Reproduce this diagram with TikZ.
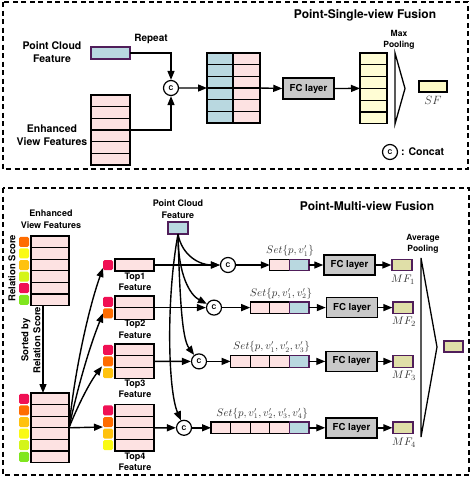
\documentclass[tikz,border=0pt]{standalone}
\usepackage{fontspec}
\newfontfamily\hv{TeX Gyre Heros}
\usetikzlibrary{arrows.meta,calc}
\definecolor{pinkc}{RGB}{253,226,226}
\definecolor{bluec}{RGB}{185,216,224}
\definecolor{purp}{RGB}{80,30,90}
\definecolor{yelc}{RGB}{255,253,212}
\definecolor{sfc}{RGB}{253,250,196}
\definecolor{mfc}{RGB}{224,223,168}
\definecolor{fcc}{RGB}{200,200,200}
\definecolor{sqred}{RGB}{240,16,84}
\definecolor{sqorange}{RGB}{255,108,0}
\definecolor{sqamber}{RGB}{255,194,14}
\definecolor{sqyellow}{RGB}{250,250,20}
\definecolor{sqlime}{RGB}{212,245,26}
\definecolor{sqgreen}{RGB}{128,230,30}
\begin{document}
\begin{tikzpicture}[x=1pt,y=-1pt,
  lbl/.style={font=\hv\bfseries\fontsize{10.5}{13.5}\selectfont, align=center, inner sep=0pt},
  slbl/.style={font=\hv\bfseries\fontsize{9}{11.5}\selectfont, align=center, inner sep=0pt},
  plbl/.style={font=\hv\bfseries\fontsize{8.5}{11}\selectfont, align=center, inner sep=0pt},
  ttl/.style={font=\hv\bfseries\fontsize{12}{14}\selectfont, inner sep=0pt},
  mlbl/.style={font=\fontsize{10.5}{12}\selectfont, text=black!80, inner sep=0pt},
  cellbox/.style={draw=black, line width=1.3pt, inner sep=0pt, outer sep=0pt},
  sqr/.style={rounded corners=1.5pt, minimum size=10pt, inner sep=0pt, outer sep=0pt},
  cc/.style={draw, circle, line width=1.2pt, fill=white, minimum size=15pt, inner sep=0pt, font=\hv\bfseries\fontsize{6.5}{7}\selectfont},
  fcbox/.style={draw, line width=1.5pt, fill=fcc, minimum width=51pt, minimum height=20pt, inner sep=0pt, font=\hv\bfseries\fontsize{9.6}{11}\selectfont},
  mfbox/.style={draw=purp, line width=1.3pt, fill=mfc, minimum width=20pt, minimum height=11.5pt, inner sep=0pt},
  arr/.style={-{Triangle[length=9pt,width=7pt]}, line width=1.4pt},
  dashframe/.style={line width=1.4pt, dash pattern=on 5pt off 3.5pt}
]
\useasboundingbox (0,0) rectangle (471,477);

% ================= top panel =================
\draw[dashframe] (3,2) rectangle (468,169);
\node[ttl] (ttop) at (365,15) {Point-Single-view Fusion};

\node[lbl] (pcflbl) at (52,52) {Point Cloud\\Feature};
\node[cellbox, draw=purp, fill=bluec, minimum width=39pt, minimum height=12pt] (pct) at (110.5,53) {};
\node[lbl, font=\hv\bfseries\fontsize{10}{12}\selectfont] (rep) at (151,39) {Repeat};
\foreach \i in {1,...,6}
  \node[cellbox, fill=pinkc, minimum width=39pt, minimum height=11.67pt] (et\i) at (110.5,{95+11.67*(\i-0.5)}) {};
\node[lbl] (evtl) at (52,135) {Enhanced\\View Features};
\node[cc] (c0) at (171,88) {C};
\draw[arr] (pct.east) -| (c0.north);
\draw[arr] (et3.south east) -| (c0.south);

\foreach \i in {1,...,6} {
  \node[cellbox, fill=bluec, minimum width=26pt, minimum height=11.67pt] (cb\i) at (220,{53+11.67*(\i-0.5)}) {};
  \node[cellbox, fill=pinkc, minimum width=27pt, minimum height=11.67pt] (cp\i) at (246.5,{53+11.67*(\i-0.5)}) {};
}
\draw[arr] (c0.east) -- (cb3.south west);
\node[fcbox, minimum height=21pt] (fc0) at (308.5,88.5) {FC layer};
\draw[arr] (cp3.south east) -- (fc0.west);
\foreach \i in {1,...,6}
  \node[cellbox, fill=yelc, minimum width=27pt, minimum height=11.8pt] (ys\i) at (373.5,{53+11.8*(\i-0.5)}) {};
\draw[arr] (fc0.east) -- (ys3.south west);
\draw[line width=1.3pt, line join=miter] (395,53) -- (405,88.5) -- (395,124) -- cycle;
\node[plbl] (mpl) at (399,39.5) {Max\\Pooling};
\node[cellbox, fill=sfc, minimum width=28pt, minimum height=11pt] (sf) at (433,86.5) {};
\node[font=\fontsize{12}{14}\selectfont, text=black!80, inner sep=0pt] (sflbl) at (433,100.5) {$SF$};
\node[cc] (cleg) at (390,152) {C};
\node[lbl, anchor=west] (clegt) at (401,152) {: Concat};

% ================= bottom panel =================
\draw[dashframe] (3,188) rectangle (469,475);
\node[ttl] (tbot) at (367,206) {Point-Multi-view Fusion};
\node[slbl] (evbl) at (51,219.5) {Enhanced\\View Features};
\foreach \i/\c in {1/sqorange,2/sqyellow,3/sqamber,4/sqlime,5/sqred,6/sqgreen} {
  \node[cellbox, fill=pinkc, minimum width=38pt, minimum height=11.6pt] (ev\i) at (50,{236+11.6*(\i-0.5)}) {};
  \node[sqr, fill=\c] (evs\i) at (24,{236+11.6*(\i-0.5)}) {};
}
\node[slbl, font=\hv\bfseries\fontsize{9.5}{12}\selectfont, rotate=90] (rsl) at (12,268) {Relation Score};
\foreach \i/\c in {1/sqred,2/sqorange,3/sqamber,4/sqyellow,5/sqlime,6/sqgreen} {
  \node[cellbox, fill=pinkc, minimum width=38pt, minimum height=11.6pt] (sv\i) at (50,{393+11.6*(\i-0.5)}) {};
  \node[sqr, fill=\c] (svs\i) at (24,{393+11.6*(\i-0.5)}) {};
}
\draw[arr] ([xshift=-7pt]ev6.south) -- ([xshift=-7pt]sv1.north);
\node[slbl, font=\hv\bfseries\fontsize{9.5}{12}\selectfont, rotate=90] (sbl) at (31,340) {Sorted by\\Relation Score};

% top-k features
\node[cellbox, fill=pinkc, minimum width=39pt, minimum height=12pt] (t1a) at (134.5,265) {};
\node[sqr, fill=sqred] (t1s1) at (108,265) {};
\node[slbl] (t1l) at (135,282) {Top1\\Feature};
\foreach \i/\c in {1/sqred,2/sqorange} {
  \node[cellbox, fill=pinkc, minimum width=39pt, minimum height=11.6pt] (t2r\i) at (134.5,{296+11.6*(\i-0.5)}) {};
  \node[sqr, fill=\c] (t2s\i) at (108,{296+11.6*(\i-0.5)}) {};
}
\node[slbl] (t2l) at (135,329.5) {Top2\\Feature};
\foreach \i/\c in {1/sqred,2/sqorange,3/sqamber} {
  \node[cellbox, fill=pinkc, minimum width=39pt, minimum height=11.6pt] (t3r\i) at (134.5,{344+11.6*(\i-0.5)}) {};
  \node[sqr, fill=\c] (t3s\i) at (108,{344+11.6*(\i-0.5)}) {};
}
\node[slbl] (t3l) at (135,389) {Top3\\Feature};
\foreach \i/\c in {1/sqred,2/sqorange,3/sqamber,4/sqyellow} {
  \node[cellbox, fill=pinkc, minimum width=39pt, minimum height=11.6pt] (t4r\i) at (134.5,{404.6+11.6*(\i-0.5)}) {};
  \node[sqr, fill=\c] (t4s\i) at (108,{404.6+11.6*(\i-0.5)}) {};
}
\node[slbl] (t4l) at (135,462) {Top4\\Feature};

\draw[arr] (sv3.south east) .. controls (74,375) and (88,310) .. ([yshift=2pt]t1s1.south west);
\draw[arr] (sv3.south east) .. controls (77,390) and (89,348) .. (t2s2.west);
\draw[arr] (sv3.south east) .. controls (78,405) and (90,382) .. ([xshift=-1pt]t3s2.south west);
\draw[arr] (sv3.south east) -- (t4s2.south west);

% point cloud feature
\node[slbl] (pcbl) at (178,209) {Point Cloud\\Feature};
\node[cellbox, draw=purp, fill=bluec, minimum width=20pt, minimum height=12pt] (pcb) at (178,228) {};

\node[cc] (c1) at (228,265) {C};
\node[cc] (c2) at (214,307.6) {C};
\node[cc] (c3) at (199,361.4) {C};
\node[cc] (c4) at (184,427.8) {C};

\draw[arr] (t1a.east) -- (c1.west);
\draw[arr] (t2r1.south east) -- (c2.west);
\draw[arr] (t3r2.east) -- (c3.west);
\draw[arr] (t4r2.south east) -- (c4.west);

\draw[arr] (pcb.south) .. controls (182,256) and (200,265) .. (c1);
\draw[arr] (pcb.south) .. controls (178,275) and (190,295) .. (c2);
\draw[arr] (pcb.south) .. controls (180,310) and (183,340) .. (c3);
\draw[arr] (pcb.south) .. controls (166,300) and (168,390) .. (c4);

% sets
\foreach \k/\y in {1/265,2/307.6,3/361.4,4/427.8} {
  \pgfmathsetmacro{\st}{309-19.6*(\k+1)}
  \foreach \j in {1,...,\k} {
    \node[cellbox, fill=pinkc, minimum width=19.6pt, minimum height=11.5pt] (s\k c\j) at ({\st+19.6*(\j-0.5)},\y) {};
  }
  \node[cellbox, draw=purp, fill=bluec, minimum width=19.6pt, minimum height=11.5pt] (s\k e) at ({309-9.8},\y) {};
}
\node[mlbl] (sl1) at (290,251) {$Set\{p,v_1'\}$};
\node[mlbl] (sl2) at (281,293.5) {$Set\{p,v_1',v_2'\}$};
\node[mlbl] (sl3) at (271.5,347) {$Set\{p,v_1',v_2',v_3'\}$};
\node[mlbl] (sl4) at (262,413.5) {$Set\{p,v_1',v_2',v_3',v_4'\}$};

\draw[arr] (c1.east) -- (s1c1.west);
\draw[arr] (c2.east) -- (s2c1.west);
\draw[arr] (c3.east) -- (s3c1.west);
\draw[arr] (c4.east) -- (s4c1.west);

\node[fcbox] (fc1) at (349.5,265) {FC layer};
\node[fcbox] (fc2) at (352,307.6) {FC layer};
\node[fcbox] (fc3) at (351.5,361.4) {FC layer};
\node[fcbox] (fc4) at (351.5,427.8) {FC layer};
\draw[arr] (s1e.east) -- (fc1.west);
\draw[arr] (s2e.east) -- (fc2.west);
\draw[arr] (s3e.east) -- (fc3.west);
\draw[arr] (s4e.east) -- (fc4.west);

\node[mfbox] (mf1) at (402,265) {};
\node[mfbox] (mf2) at (403,307.6) {};
\node[mfbox] (mf3) at (403,361.4) {};
\node[mfbox] (mf4) at (403,427.8) {};
\draw[arr] (fc1.east) -- (mf1.west);
\draw[arr] (fc2.east) -- (mf2.west);
\draw[arr] (fc3.east) -- (mf3.west);
\draw[arr] (fc4.east) -- (mf4.west);
\node[mlbl, font=\fontsize{11}{12}\selectfont] (mfl1) at (403,279.5) {$MF_1$};
\node[mlbl, font=\fontsize{11}{12}\selectfont] (mfl2) at (404,322) {$MF_2$};
\node[mlbl, font=\fontsize{11}{12}\selectfont] (mfl3) at (404,375.5) {$MF_3$};
\node[mlbl, font=\fontsize{11}{12}\selectfont] (mfl4) at (404,442.5) {$MF_4$};

\draw[line width=1.3pt, line join=miter] (421,258) -- (437,347) -- (421,437) -- cycle;
\node[plbl] (apl) at (423,243.5) {Average\\Pooling};
\node[mfbox, minimum width=19pt, minimum height=11pt] (fin) at (453.5,346.5) {};
\end{tikzpicture}
\end{document}
